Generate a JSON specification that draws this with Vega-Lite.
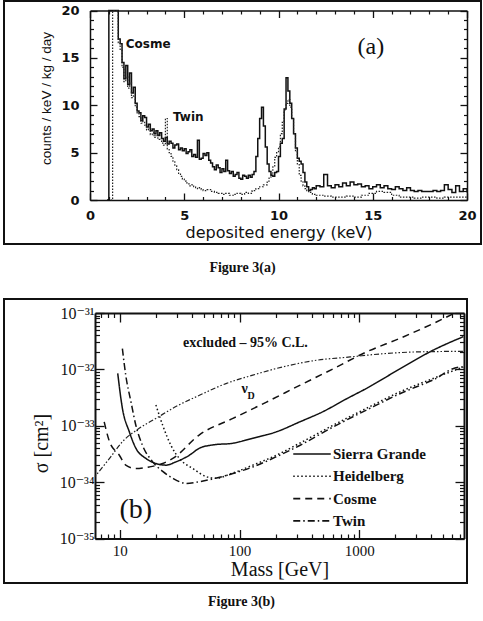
{
"$schema": "https://vega.github.io/schema/vega-lite/v6.json",
"background": "white",
"padding": {"left": 3, "top": 0, "right": 0, "bottom": 0},
"spacing": 22,
"resolve": {"legend": {"strokeDash": "independent"}},
"config": {
  "view": {"stroke": "#111", "strokeWidth": 2},
  "axis": {"grid": false, "domainColor": "#111", "tickColor": "#111", "labelColor": "#111", "titleColor": "#111", "labelFlush": false, "labelOverlap": false}
},
"vconcat": [
{
  "width": 477, "height": 243,
  "title": {"text": "Figure 3(a)", "orient": "bottom", "font": "Liberation Serif", "fontSize": 14, "fontWeight": "bold", "color": "#111", "offset": 17, "anchor": "middle"},
  "resolve": {"axis": {"x": "independent", "y": "independent"}},
  "layer": [
    {
      "data": {"values": [
        {"energy":0.9,"rate":0},{"energy":1.0,"rate":20},{"energy":1.5,"rate":17},{"energy":1.6,"rate":16.5},{"energy":1.7,"rate":14.5},{"energy":1.8,"rate":12.8},{"energy":1.9,"rate":14.2},{"energy":2.0,"rate":12.2},{"energy":2.1,"rate":13.4},{"energy":2.2,"rate":11.3},{"energy":2.3,"rate":11.9},{"energy":2.4,"rate":10.2},{"energy":2.5,"rate":9.4},{"energy":2.6,"rate":9.2},{"energy":2.7,"rate":8.4},{"energy":2.8,"rate":8.9},{"energy":2.9,"rate":8.7},{"energy":3.0,"rate":7.7},{"energy":3.1,"rate":8.0},{"energy":3.2,"rate":7.3},{"energy":3.3,"rate":7.5},{"energy":3.4,"rate":7.0},{"energy":3.5,"rate":7.3},{"energy":3.6,"rate":6.8},{"energy":3.7,"rate":7.1},{"energy":3.8,"rate":6.5},{"energy":3.9,"rate":6.2},{"energy":4.0,"rate":6.6},{"energy":4.1,"rate":5.9},{"energy":4.2,"rate":6.2},{"energy":4.3,"rate":6.0},{"energy":4.4,"rate":5.5},{"energy":4.5,"rate":5.8},{"energy":4.6,"rate":5.9},{"energy":4.7,"rate":5.3},{"energy":4.8,"rate":5.5},{"energy":4.9,"rate":5.2},{"energy":5.0,"rate":5.4},{"energy":5.1,"rate":4.9},{"energy":5.2,"rate":5.1},{"energy":5.3,"rate":5.3},{"energy":5.4,"rate":4.6},{"energy":5.5,"rate":4.8},{"energy":5.6,"rate":4.5},{"energy":5.7,"rate":6.3},{"energy":5.8,"rate":4.3},{"energy":5.9,"rate":4.4},{"energy":6.0,"rate":4.9},{"energy":6.1,"rate":4.7},{"energy":6.2,"rate":5.0},{"energy":6.3,"rate":4.2},{"energy":6.4,"rate":3.9},{"energy":6.5,"rate":3.5},{"energy":6.6,"rate":3.2},{"energy":6.7,"rate":3.7},{"energy":6.8,"rate":3.4},{"energy":6.9,"rate":2.9},{"energy":7.0,"rate":3.3},{"energy":7.1,"rate":3.0},{"energy":7.2,"rate":4.2},{"energy":7.3,"rate":3.1},{"energy":7.4,"rate":2.8},{"energy":7.5,"rate":3.0},{"energy":7.6,"rate":2.5},{"energy":7.7,"rate":2.7},{"energy":7.8,"rate":2.9},{"energy":7.9,"rate":2.3},{"energy":8.0,"rate":2.2},{"energy":8.1,"rate":2.6},{"energy":8.2,"rate":2.5},{"energy":8.3,"rate":2.3},{"energy":8.4,"rate":2.6},{"energy":8.5,"rate":2.4},{"energy":8.6,"rate":2.7},{"energy":8.7,"rate":3.0},{"energy":8.8,"rate":4.6},{"energy":8.9,"rate":6.5},{"energy":9.0,"rate":8.6},{"energy":9.1,"rate":9.8},{"energy":9.2,"rate":7.8},{"energy":9.3,"rate":5.6},{"energy":9.4,"rate":3.8},{"energy":9.5,"rate":3.0},{"energy":9.6,"rate":2.6},{"energy":9.7,"rate":2.5},{"energy":9.8,"rate":2.9},{"energy":9.9,"rate":3.0},{"energy":10.0,"rate":4.6},{"energy":10.1,"rate":6.0},{"energy":10.2,"rate":6.5},{"energy":10.3,"rate":9.6},{"energy":10.4,"rate":12.9},{"energy":10.5,"rate":11.5},{"energy":10.6,"rate":10.2},{"energy":10.7,"rate":8.6},{"energy":10.8,"rate":7.0},{"energy":10.9,"rate":5.5},{"energy":11.0,"rate":4.4},{"energy":11.1,"rate":4.1},{"energy":11.2,"rate":3.8},{"energy":11.3,"rate":2.9},{"energy":11.4,"rate":1.9},{"energy":11.5,"rate":1.4},{"energy":11.6,"rate":1.0},{"energy":11.7,"rate":1.1},{"energy":11.8,"rate":1.3},{"energy":11.9,"rate":1.2},{"energy":12.0,"rate":1.5},{"energy":12.2,"rate":1.4},{"energy":12.4,"rate":2.7},{"energy":12.6,"rate":1.5},{"energy":12.8,"rate":1.3},{"energy":13.0,"rate":1.6},{"energy":13.2,"rate":1.4},{"energy":13.4,"rate":1.8},{"energy":13.6,"rate":1.5},{"energy":13.8,"rate":1.9},{"energy":14.0,"rate":1.6},{"energy":14.2,"rate":1.7},{"energy":14.4,"rate":1.4},{"energy":14.6,"rate":1.5},{"energy":14.8,"rate":1.2},{"energy":15.0,"rate":1.4},{"energy":15.2,"rate":1.6},{"energy":15.4,"rate":1.3},{"energy":15.6,"rate":1.5},{"energy":15.8,"rate":1.2},{"energy":16.0,"rate":1.1},{"energy":16.2,"rate":1.4},{"energy":16.4,"rate":1.2},{"energy":16.6,"rate":1.0},{"energy":16.8,"rate":1.3},{"energy":17.0,"rate":1.0},{"energy":17.2,"rate":0.9},{"energy":17.4,"rate":1.0},{"energy":17.6,"rate":0.9},{"energy":17.8,"rate":0.9},{"energy":18.0,"rate":0.9},{"energy":18.2,"rate":1.0},{"energy":18.4,"rate":0.9},{"energy":18.6,"rate":1.0},{"energy":18.8,"rate":1.6},{"energy":19.0,"rate":1.1},{"energy":19.2,"rate":0.8},{"energy":19.4,"rate":1.5},{"energy":19.6,"rate":0.9},{"energy":19.8,"rate":1.2},{"energy":20.0,"rate":0.8}
      ]},
      "mark": {"type": "line", "interpolate": "step-after", "stroke": "#111", "strokeWidth": 1.5},
      "encoding": {
        "x": {"field": "energy", "type": "quantitative",
          "scale": {"domain": [0, 20], "range": [86, 463], "nice": false, "zero": false},
          "axis": {"orient": "bottom", "offset": -44, "values": [0,5,10,15,20], "tickSize": -7, "tickWidth": 1.3, "labelPadding": 16, "labelFont": "DejaVu Sans", "labelFontSize": 13, "labelFontWeight": "bold", "domainWidth": 1.5, "title": "deposited energy (keV)", "titleFont": "DejaVu Sans", "titleFontSize": 16, "titleFontWeight": "normal", "titlePadding": 2}},
        "y": {"field": "rate", "type": "quantitative",
          "scale": {"domain": [0, 20], "range": [199, 9.5], "nice": false, "zero": false},
          "axis": {"orient": "left", "offset": -86, "values": [0,5,10,15,20], "tickSize": -7, "tickWidth": 1.3, "labelPadding": 18, "labelFont": "DejaVu Sans", "labelFontSize": 13, "labelFontWeight": "bold", "domainWidth": 1.5, "title": "counts / keV / kg / day", "titleFont": "Liberation Sans", "titleFontSize": 13.5, "titleFontWeight": "normal", "titlePadding": 7, "titleY": 97}}
      }
    },
    {
      "data": {"values": [
        {"energy":1.1,"rate":0},{"energy":1.2,"rate":20},{"energy":1.5,"rate":16.6},{"energy":1.6,"rate":15.8},{"energy":1.7,"rate":14},{"energy":1.8,"rate":12.5},{"energy":1.9,"rate":13},{"energy":2.0,"rate":11.8},{"energy":2.1,"rate":12.4},{"energy":2.2,"rate":10.8},{"energy":2.3,"rate":11},{"energy":2.4,"rate":9.8},{"energy":2.5,"rate":9.2},{"energy":2.6,"rate":8.8},{"energy":2.7,"rate":8.1},{"energy":2.8,"rate":8.3},{"energy":2.9,"rate":7.9},{"energy":3.0,"rate":7.4},{"energy":3.1,"rate":7.6},{"energy":3.2,"rate":6.9},{"energy":3.3,"rate":7.1},{"energy":3.4,"rate":6.6},{"energy":3.5,"rate":6.9},{"energy":3.6,"rate":6.4},{"energy":3.7,"rate":6.5},{"energy":3.8,"rate":6.0},{"energy":3.9,"rate":5.8},{"energy":4.0,"rate":8.6},{"energy":4.1,"rate":5.4},{"energy":4.2,"rate":5.0},{"energy":4.3,"rate":4.6},{"energy":4.4,"rate":4.1},{"energy":4.5,"rate":3.6},{"energy":4.6,"rate":3.2},{"energy":4.7,"rate":2.8},{"energy":4.8,"rate":2.5},{"energy":4.9,"rate":2.2},{"energy":5.0,"rate":2.0},{"energy":5.1,"rate":1.8},{"energy":5.2,"rate":1.7},{"energy":5.3,"rate":1.5},{"energy":5.4,"rate":1.6},{"energy":5.5,"rate":1.4},{"energy":5.6,"rate":1.3},{"energy":5.7,"rate":1.2},{"energy":5.8,"rate":1.3},{"energy":5.9,"rate":1.1},{"energy":6.0,"rate":1.0},{"energy":6.2,"rate":1.1},{"energy":6.4,"rate":0.9},{"energy":6.6,"rate":0.8},{"energy":6.8,"rate":0.7},{"energy":7.0,"rate":0.6},{"energy":7.2,"rate":0.7},{"energy":7.4,"rate":0.5},{"energy":7.6,"rate":0.6},{"energy":7.8,"rate":0.7},{"energy":8.0,"rate":0.6},{"energy":8.2,"rate":0.8},{"energy":8.4,"rate":0.7},{"energy":8.6,"rate":1.0},{"energy":8.8,"rate":1.2},{"energy":9.0,"rate":1.4},{"energy":9.2,"rate":1.6},{"energy":9.4,"rate":2.0},{"energy":9.5,"rate":2.4},{"energy":9.6,"rate":2.7},{"energy":9.7,"rate":3.5},{"energy":9.8,"rate":4.5},{"energy":9.9,"rate":5.0},{"energy":10.0,"rate":5.6},{"energy":10.1,"rate":7.0},{"energy":10.2,"rate":8.2},{"energy":10.3,"rate":9.5},{"energy":10.4,"rate":10.2},{"energy":10.5,"rate":10.6},{"energy":10.6,"rate":9.8},{"energy":10.7,"rate":8.6},{"energy":10.8,"rate":7.0},{"energy":10.9,"rate":5.2},{"energy":11.0,"rate":3.8},{"energy":11.1,"rate":2.6},{"energy":11.2,"rate":2.0},{"energy":11.3,"rate":1.5},{"energy":11.4,"rate":1.2},{"energy":11.5,"rate":1.0},{"energy":11.6,"rate":0.8},{"energy":11.8,"rate":0.6},{"energy":12.0,"rate":0.5},{"energy":12.4,"rate":0.4},{"energy":12.8,"rate":0.3},{"energy":13.2,"rate":0.3},{"energy":13.6,"rate":0.4},{"energy":14.0,"rate":0.3},{"energy":14.4,"rate":0.5},{"energy":14.8,"rate":0.7},{"energy":15.2,"rate":0.9},{"energy":15.6,"rate":0.8},{"energy":16.0,"rate":0.5},{"energy":16.4,"rate":0.3},{"energy":16.8,"rate":0.3},{"energy":17.2,"rate":0.2},{"energy":17.6,"rate":0.3},{"energy":18.0,"rate":0.3},{"energy":18.4,"rate":0.2},{"energy":18.8,"rate":0.3},{"energy":19.2,"rate":0.3},{"energy":19.6,"rate":0.3},{"energy":20.0,"rate":0.3}
      ]},
      "mark": {"type": "line", "interpolate": "step-after", "stroke": "#222", "strokeWidth": 1.2, "strokeDash": [1.5, 1.5]},
      "encoding": {
        "x": {"field": "energy", "type": "quantitative",
          "axis": {"orient": "bottom", "offset": -44, "values": [1,2,3,4,6,7,8,9,11,12,13,14,16,17,18,19], "tickSize": -3.5, "tickWidth": 1.2, "labels": false, "domain": false, "title": null}},
        "y": {"field": "rate", "type": "quantitative",
          "axis": {"orient": "left", "offset": -86, "values": [1,2,3,4,6,7,8,9,11,12,13,14,16,17,18,19], "tickSize": -3.5, "tickWidth": 1.2, "labels": false, "domain": false, "title": null}}
      }
    },
    {
      "data": {"values": [{"energy": 1.9, "rate": 16.5, "label": "Cosme"}]},
      "mark": {"type": "text", "align": "left", "baseline": "middle", "font": "DejaVu Sans", "fontSize": 12, "fontWeight": "bold", "color": "#111"},
      "encoding": {
        "x": {"field": "energy", "type": "quantitative",
          "axis": {"orient": "top", "offset": -9.5, "values": [0,5,10,15,20], "tickSize": -7, "tickWidth": 1.3, "labels": false, "domainWidth": 1.5, "title": null}},
        "y": {"field": "rate", "type": "quantitative",
          "axis": {"orient": "right", "offset": -14, "values": [0,5,10,15,20], "tickSize": -7, "tickWidth": 1.3, "labels": false, "domainWidth": 1.5, "title": null}},
        "text": {"field": "label"}
      }
    },
    {
      "data": {"values": [{"energy": 4.4, "rate": 8.8, "label": "Twin"}]},
      "mark": {"type": "text", "align": "left", "baseline": "middle", "font": "DejaVu Sans", "fontSize": 12, "fontWeight": "bold", "color": "#111"},
      "encoding": {
        "x": {"field": "energy", "type": "quantitative",
          "axis": {"orient": "top", "offset": -9.5, "values": [1,2,3,4,6,7,8,9,11,12,13,14,16,17,18,19], "tickSize": -3.5, "tickWidth": 1.2, "labels": false, "domain": false, "title": null}},
        "y": {"field": "rate", "type": "quantitative",
          "axis": {"orient": "right", "offset": -14, "values": [1,2,3,4,6,7,8,9,11,12,13,14,16,17,18,19], "tickSize": -3.5, "tickWidth": 1.2, "labels": false, "domain": false, "title": null}},
        "text": {"field": "label"}
      }
    },
    {
      "data": {"values": [{"energy": 14.9, "rate": 16.2, "label": "(a)"}]},
      "mark": {"type": "text", "align": "center", "baseline": "middle", "font": "Liberation Serif", "fontSize": 24, "color": "#111"},
      "encoding": {
        "x": {"field": "energy", "type": "quantitative", "axis": null},
        "y": {"field": "rate", "type": "quantitative", "axis": null},
        "text": {"field": "label"}
      }
    }
  ]
},
{
  "width": 463, "height": 284,
  "title": {"text": "Figure 3(b)", "orient": "bottom", "font": "Liberation Serif", "fontSize": 14, "fontWeight": "bold", "color": "#111", "offset": 12, "anchor": "middle", "dx": 6},
  "resolve": {"axis": {"x": "independent", "y": "independent"}},
  "layer": [
    {
      "data": {"values": [
        {"experiment":"Sierra Grande","mass":9.6,"sigma":8.5e-33},{"experiment":"Sierra Grande","mass":10.5,"sigma":2.04e-33},{"experiment":"Sierra Grande","mass":12.0,"sigma":7.8e-34},{"experiment":"Sierra Grande","mass":13.6,"sigma":4.0e-34},{"experiment":"Sierra Grande","mass":16.5,"sigma":2.63e-34},{"experiment":"Sierra Grande","mass":20.0,"sigma":2.14e-34},{"experiment":"Sierra Grande","mass":24.3,"sigma":2.0e-34},{"experiment":"Sierra Grande","mass":29.4,"sigma":2.29e-34},{"experiment":"Sierra Grande","mass":38.1,"sigma":3.0e-34},{"experiment":"Sierra Grande","mass":46.2,"sigma":4.0e-34},{"experiment":"Sierra Grande","mass":59.7,"sigma":4.57e-34},{"experiment":"Sierra Grande","mass":88,"sigma":4.9e-34},{"experiment":"Sierra Grande","mass":129,"sigma":6.0e-34},{"experiment":"Sierra Grande","mass":203,"sigma":7.8e-34},{"experiment":"Sierra Grande","mass":318,"sigma":1.17e-33},{"experiment":"Sierra Grande","mass":498,"sigma":1.78e-33},{"experiment":"Sierra Grande","mass":782,"sigma":3.0e-33},{"experiment":"Sierra Grande","mass":1149,"sigma":4.6e-33},{"experiment":"Sierra Grande","mass":2184,"sigma":1.02e-32},{"experiment":"Sierra Grande","mass":4144,"sigma":2.19e-32},{"experiment":"Sierra Grande","mass":7400,"sigma":3.8e-32},
        {"experiment":"Heidelberg","mass":20,"sigma":2.34e-33},{"experiment":"Heidelberg","mass":22.8,"sigma":1.02e-33},{"experiment":"Heidelberg","mass":26.6,"sigma":4.57e-34},{"experiment":"Heidelberg","mass":31.4,"sigma":2.63e-34},{"experiment":"Heidelberg","mass":40.8,"sigma":1.74e-34},{"experiment":"Heidelberg","mass":52.2,"sigma":1.26e-34},{"experiment":"Heidelberg","mass":63,"sigma":1.17e-34},{"experiment":"Heidelberg","mass":88,"sigma":1.45e-34},{"experiment":"Heidelberg","mass":129,"sigma":2.0e-34},{"experiment":"Heidelberg","mass":203,"sigma":3.0e-34},{"experiment":"Heidelberg","mass":318,"sigma":4.9e-34},{"experiment":"Heidelberg","mass":604,"sigma":1.02e-33},{"experiment":"Heidelberg","mass":1149,"sigma":2.04e-33},{"experiment":"Heidelberg","mass":2184,"sigma":3.98e-33},{"experiment":"Heidelberg","mass":4144,"sigma":6.9e-33},{"experiment":"Heidelberg","mass":7400,"sigma":1.1e-32},
        {"experiment":"Cosme","mass":7.4,"sigma":1.17e-33},{"experiment":"Cosme","mass":8.2,"sigma":5.2e-34},{"experiment":"Cosme","mass":9.9,"sigma":3.0e-34},{"experiment":"Cosme","mass":11.2,"sigma":2.0e-34},{"experiment":"Cosme","mass":13.6,"sigma":1.74e-34},{"experiment":"Cosme","mass":17.6,"sigma":1.86e-34},{"experiment":"Cosme","mass":22.8,"sigma":2.14e-34},{"experiment":"Cosme","mass":27.7,"sigma":2.63e-34},{"experiment":"Cosme","mass":46.2,"sigma":6.9e-34},{"experiment":"Cosme","mass":88,"sigma":1.35e-33},{"experiment":"Cosme","mass":168,"sigma":2.63e-33},{"experiment":"Cosme","mass":318,"sigma":5.2e-33},{"experiment":"Cosme","mass":604,"sigma":1.02e-32},{"experiment":"Cosme","mass":1149,"sigma":2.04e-32},{"experiment":"Cosme","mass":2184,"sigma":3.55e-32},{"experiment":"Cosme","mass":4144,"sigma":6.5e-32},{"experiment":"Cosme","mass":6290,"sigma":1.0e-31},
        {"experiment":"Twin","mass":10.5,"sigma":2.34e-32},{"experiment":"Twin","mass":11.2,"sigma":7.9e-33},{"experiment":"Twin","mass":12.4,"sigma":2.63e-33},{"experiment":"Twin","mass":13.6,"sigma":1.02e-33},{"experiment":"Twin","mass":15.4,"sigma":4.57e-34},{"experiment":"Twin","mass":18.8,"sigma":2.29e-34},{"experiment":"Twin","mass":22.8,"sigma":1.55e-34},{"experiment":"Twin","mass":27.7,"sigma":1.17e-34},{"experiment":"Twin","mass":35.8,"sigma":9.5e-35},{"experiment":"Twin","mass":46.2,"sigma":1.02e-34},{"experiment":"Twin","mass":63,"sigma":1.17e-34},{"experiment":"Twin","mass":88,"sigma":1.42e-34},{"experiment":"Twin","mass":129,"sigma":1.86e-34},{"experiment":"Twin","mass":203,"sigma":2.82e-34},{"experiment":"Twin","mass":318,"sigma":4.47e-34},{"experiment":"Twin","mass":604,"sigma":9.5e-34},{"experiment":"Twin","mass":1149,"sigma":1.9e-33},{"experiment":"Twin","mass":2184,"sigma":3.7e-33},{"experiment":"Twin","mass":4144,"sigma":6.5e-33},{"experiment":"Twin","mass":6940,"sigma":1.1e-32},{"experiment":"Twin","mass":7500,"sigma":1.1e-32}
      ]},
      "mark": {"type": "line", "interpolate": "monotone", "stroke": "#111", "strokeWidth": 1.5},
      "encoding": {
        "x": {"field": "mass", "type": "quantitative",
          "scale": {"type": "log", "domain": [6.2, 7500], "range": [91, 460], "nice": false},
          "axis": {"orient": "bottom", "offset": -44.5, "values": [10, 100, 1000], "format": "d", "tickSize": -9, "tickWidth": 1.3, "labelPadding": 14, "labelFont": "Liberation Serif", "labelFontSize": 15, "domainWidth": 2, "title": "Mass [GeV]", "titleFont": "Liberation Serif", "titleFontSize": 20, "titleFontWeight": "normal", "titlePadding": 1}},
        "y": {"field": "sigma", "type": "quantitative",
          "scale": {"type": "log", "domain": [1e-35, 1e-31], "range": [239.5, 14], "nice": false},
          "axis": {"orient": "left", "offset": -91, "values": [1e-35, 1e-34, 1e-33, 1e-32, 1e-31], "labelExpr": "['10⁻³⁵','10⁻³⁴','10⁻³³','10⁻³²','10⁻³¹'][round(log(datum.value)/LN10)+35]", "tickSize": -9, "tickWidth": 1.3, "labelPadding": 10, "labelFont": "Liberation Serif, DejaVu Serif", "labelFontSize": 16, "domainWidth": 2, "title": "σ  [cm²]", "titleFont": "Liberation Serif, DejaVu Serif", "titleFontSize": 20, "titleFontWeight": "normal", "titlePadding": 8, "titleY": 144}},
        "strokeDash": {"field": "experiment", "type": "nominal",
          "scale": {"domain": ["Sierra Grande", "Heidelberg", "Cosme", "Twin"], "range": [[1, 0], [1.5, 2.5], [7, 5], [7, 3, 1.5, 3]]},
          "legend": {"orient": "none", "legendX": 289, "legendY": 146.5, "title": null, "symbolType": "M-2.5,0L2.5,0", "symbolSize": 225, "symbolOffset": 10.5, "symbolStrokeWidth": 1.6, "symbolStrokeColor": "#111", "labelFont": "Liberation Serif", "labelFontSize": 15, "labelFontWeight": "bold", "labelColor": "#111", "labelOffset": 12.5, "rowPadding": 5.3, "padding": 0, "labelLimit": 300}}
      }
    },
    {
      "data": {"values": [
        {"mass":6.2,"sigma":1.26e-34},{"mass":8.2,"sigma":2.63e-34},{"mass":10.5,"sigma":5.2e-34},{"mass":14.4,"sigma":8.9e-34},{"mass":20,"sigma":1.35e-33},{"mass":29.4,"sigma":2.19e-33},{"mass":46.2,"sigma":3.47e-33},{"mass":77,"sigma":5.6e-33},{"mass":129,"sigma":7.9e-33},{"mass":227,"sigma":1.1e-32},{"mass":437,"sigma":1.45e-32},{"mass":838,"sigma":1.66e-32},{"mass":1600,"sigma":1.9e-32},{"mass":3000,"sigma":2.04e-32},{"mass":7500,"sigma":2.09e-32}
      ]},
      "mark": {"type": "line", "interpolate": "monotone", "stroke": "#222", "strokeWidth": 1.2, "strokeDash": [1.5, 2, 1.5, 2, 5, 2]},
      "encoding": {
        "x": {"field": "mass", "type": "quantitative",
          "axis": {"orient": "bottom", "offset": -44.5, "values": [7,8,9,20,30,40,50,60,70,80,90,200,300,400,500,600,700,800,900,2000,3000,4000,5000,6000,7000], "tickSize": -4.5, "tickWidth": 1.2, "labels": false, "domain": false, "title": null}},
        "y": {"field": "sigma", "type": "quantitative",
          "axis": {"orient": "left", "offset": -91, "values": [2e-35,3e-35,4e-35,5e-35,6e-35,7e-35,8e-35,9e-35,2e-34,3e-34,4e-34,5e-34,6e-34,7e-34,8e-34,9e-34,2e-33,3e-33,4e-33,5e-33,6e-33,7e-33,8e-33,9e-33,2e-32,3e-32,4e-32,5e-32,6e-32,7e-32,8e-32,9e-32], "tickSize": -4.5, "tickWidth": 1.2, "labels": false, "domain": false, "title": null}}
      }
    },
    {
      "data": {"values": [{"mass": 112, "sigma": 2.9e-32, "label": "excluded – 95% C.L."}]},
      "mark": {"type": "text", "align": "center", "baseline": "middle", "font": "Liberation Serif", "fontSize": 14, "fontWeight": "bold", "color": "#111"},
      "encoding": {
        "x": {"field": "mass", "type": "quantitative",
          "axis": {"orient": "top", "offset": -14, "values": [10, 100, 1000], "tickSize": -9, "tickWidth": 1.3, "labels": false, "domainWidth": 2, "title": null}},
        "y": {"field": "sigma", "type": "quantitative",
          "axis": {"orient": "right", "offset": -3, "values": [1e-35, 1e-34, 1e-33, 1e-32, 1e-31], "tickSize": -9, "tickWidth": 1.3, "labels": false, "domainWidth": 2, "title": null}},
        "text": {"field": "label"}
      }
    },
    {
      "data": {"values": [{"mass": 13.6, "sigma": 3.2e-35, "label": "(b)"}]},
      "mark": {"type": "text", "align": "center", "baseline": "middle", "font": "Liberation Serif", "fontSize": 28, "color": "#111"},
      "encoding": {
        "x": {"field": "mass", "type": "quantitative",
          "axis": {"orient": "top", "offset": -14, "values": [7,8,9,20,30,40,50,60,70,80,90,200,300,400,500,600,700,800,900,2000,3000,4000,5000,6000,7000], "tickSize": -4.5, "tickWidth": 1.2, "labels": false, "domain": false, "title": null}},
        "y": {"field": "sigma", "type": "quantitative",
          "axis": {"orient": "right", "offset": -3, "values": [2e-35,3e-35,4e-35,5e-35,6e-35,7e-35,8e-35,9e-35,2e-34,3e-34,4e-34,5e-34,6e-34,7e-34,8e-34,9e-34,2e-33,3e-33,4e-33,5e-33,6e-33,7e-33,8e-33,9e-33,2e-32,3e-32,4e-32,5e-32,6e-32,7e-32,8e-32,9e-32], "tickSize": -4.5, "tickWidth": 1.2, "labels": false, "domain": false, "title": null}},
        "text": {"field": "label"}
      }
    },
    {
      "data": {"values": [{"mass": 110, "sigma": 4.5e-33, "label": "ν"}]},
      "mark": {"type": "text", "align": "center", "baseline": "middle", "font": "Liberation Serif", "fontSize": 14, "fontWeight": "bold", "color": "#111"},
      "encoding": {
        "x": {"field": "mass", "type": "quantitative", "axis": null},
        "y": {"field": "sigma", "type": "quantitative", "axis": null},
        "text": {"field": "label"}
      }
    },
    {
      "data": {"values": [{"mass": 125, "sigma": 3.4e-33, "label": "D"}]},
      "mark": {"type": "text", "align": "center", "baseline": "middle", "font": "Liberation Serif", "fontSize": 10, "fontWeight": "bold", "color": "#111"},
      "encoding": {
        "x": {"field": "mass", "type": "quantitative", "axis": null},
        "y": {"field": "sigma", "type": "quantitative", "axis": null},
        "text": {"field": "label"}
      }
    }
  ]
}
]
}
